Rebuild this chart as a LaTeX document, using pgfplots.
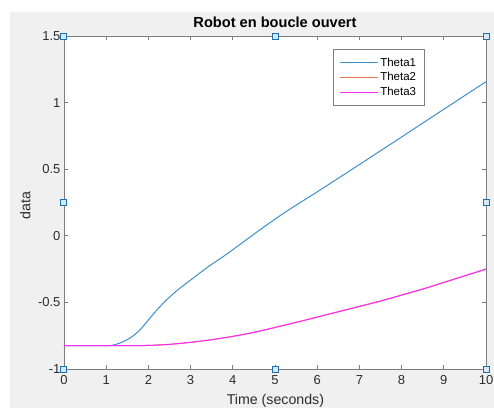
\documentclass[border=0pt]{standalone}
\usepackage{fontspec}
\setmainfont{Liberation Sans}
\usepackage{pgfplots}
\pgfplotsset{compat=1.18}

\definecolor{figbg}{RGB}{240,240,240}
\definecolor{axgray}{RGB}{125,125,125}
\definecolor{ticktxt}{RGB}{45,45,45}
\definecolor{th1}{RGB}{60,145,205}
\definecolor{th2}{RGB}{230,120,75}
\definecolor{th3}{RGB}{255,40,255}
\definecolor{handle}{RGB}{30,110,180}
\definecolor{handlefill}{RGB}{215,232,248}

\begin{document}
\begin{tikzpicture}
\path[use as bounding box] (-64pt,-39pt) rectangle (430pt,369pt);
\clip (-64pt,-39pt) rectangle (430pt,369pt);
\fill[white] (-64pt,-39pt) rectangle (430pt,369pt);
\fill[figbg] (-54pt,-39pt) rectangle (430pt,357pt);
\begin{axis}[
  width=422pt, height=333pt, scale only axis,
  xmin=0, xmax=10, ymin=-1, ymax=1.5,
  clip=false,
  axis background/.style={fill=white},
  xtick={0,1,...,10}, xticklabels={0,1,2,3,4,5,6,7,8,9,10},
  ytick={-1,-0.5,0,0.5,1,1.5}, yticklabels={-1,-0.5,0,0.5,1,1.5},
  xtick pos=both, ytick pos=both,
  tick align=inside, major tick length=4.2pt,
  axis line style={axgray, line width=0.8pt},
  tick style={axgray, line width=0.8pt},
  ticklabel style={font=\fontsize{13}{15}\selectfont, text=ticktxt},
  xticklabel style={yshift=-3pt},
  title={Robot en boucle ouvert},
  title style={font=\fontsize{14.6}{17}\selectfont\bfseries, at={(axis description cs:0.5,1.024)}, anchor=center},
  xlabel={Time (seconds)},
  ylabel={data},
  every axis x label/.style={at={(axis description cs:0.501,-0.096)}, anchor=center, font=\fontsize{14.2}{16}\selectfont, text=ticktxt},
  every axis y label/.style={at={(axis description cs:-0.092,0.49)}, anchor=center, rotate=90, font=\fontsize{14.2}{16}\selectfont, text=ticktxt},
  legend style={at={(axis description cs:0.637,0.96)}, anchor=north west,
    draw=axgray, line width=0.8pt, fill=white, font=\fontsize{11.5}{13}\selectfont,
    inner xsep=6pt, inner ysep=6pt, row sep=1pt},
  legend cell align=left,
  legend image code/.code={\draw[#1, line width=1.1pt] (0pt,0pt) -- (38pt,0pt);},
]
\addplot[th1, line width=1pt, smooth, tension=0.4] coordinates {
(0,-0.825) (1,-0.825) (1.2,-0.818) (1.4,-0.795) (1.6,-0.76) (1.8,-0.707)
(2.0,-0.632) (2.2,-0.557) (2.4,-0.49) (2.6,-0.432) (2.8,-0.38) (3.0,-0.332)
(3.4,-0.236) (3.8,-0.15) (4.2,-0.058) (4.6,0.035) (5.0,0.125) (5.4,0.21)
(6,0.33) (7,0.535) (8,0.742) (9,0.95) (10,1.157)};
\addlegendentry{Theta1}
\addplot[th2, line width=1pt, smooth, tension=0.4] coordinates {
(0,-0.825) (1.5,-0.825) (2,-0.823) (2.5,-0.815) (3,-0.80) (3.5,-0.78)
(4,-0.755) (4.5,-0.725) (5,-0.688) (5.5,-0.65) (6,-0.61) (6.5,-0.57)
(7,-0.53) (7.5,-0.49) (8,-0.445) (8.5,-0.40) (9,-0.35) (9.5,-0.30) (10,-0.25)};
\addlegendentry{Theta2}
\addplot[th3, line width=1pt, smooth, tension=0.4] coordinates {
(0,-0.825) (1.5,-0.825) (2,-0.823) (2.5,-0.815) (3,-0.80) (3.5,-0.78)
(4,-0.755) (4.5,-0.725) (5,-0.688) (5.5,-0.65) (6,-0.61) (6.5,-0.57)
(7,-0.53) (7.5,-0.49) (8,-0.445) (8.5,-0.40) (9,-0.35) (9.5,-0.30) (10,-0.25)};
\addlegendentry{Theta3}
\addplot[only marks, mark=square*, mark size=3pt, forget plot,
  mark options={draw=handle, fill=handlefill, line width=1pt}] coordinates {
(0,1.5) (5,1.5) (10,1.5) (0,0.25) (10,0.25) (0,-1) (5,-1) (10,-1)};
\end{axis}
\end{tikzpicture}
\end{document}
